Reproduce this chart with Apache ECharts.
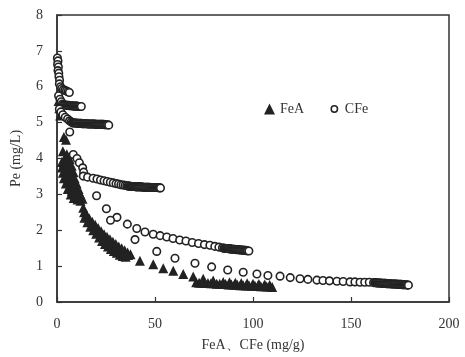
<!DOCTYPE html>
<html><head><meta charset="utf-8">
<script src="https://cdn.jsdelivr.net/npm/echarts@6/dist/echarts.min.js"></script>
<style>html,body{margin:0;padding:0;background:#fff}#c{width:465px;height:357px}</style>
</head><body><div id="c"></div>
<script>
// Axis ticks
const xTicks = [0, 50, 100, 150, 200];
const yTicks = [0, 1, 2, 3, 4, 5, 6, 7, 8];
const seriesNames = ['FeA', 'CFe'];

// CFe (open circles), [FeA/CFe mg/g, Pe mg/L]
const cfeTop = [[0.2,6.8],[0.5,6.72],[0.3,6.62],[0.7,6.55],[0.5,6.45],[0.9,6.38],[1.0,6.28],[1.3,6.18],[1.2,6.08],[1.8,6.0],[2.4,5.95],[3.2,5.92],[4.0,5.9],[4.8,5.88],[5.6,5.86],[6.3,5.84]];
const cfeBand55 = [[0.8,5.75],[1.5,5.65],[2.2,5.58],[2.8,5.52],[3.3,5.5],[3.8,5.49],[4.3,5.49],[4.8,5.48],[5.3,5.48],[5.8,5.48],[6.3,5.47],[6.8,5.47],[7.3,5.47],[7.8,5.47],[8.3,5.46],[8.8,5.46],[9.3,5.46],[9.8,5.46],[10.3,5.46],[10.8,5.45],[11.3,5.45],[11.8,5.45],[12.4,5.45]];
const cfeBand50 = [[1.2,5.38],[2.0,5.3],[3.0,5.22],[4.2,5.15],[5.4,5.1],[6.4,5.05],[7.2,5.02],[7.8,5.0],[8.3,4.99],[8.8,4.99],[9.3,4.99],[9.8,4.99],[10.3,4.98],[10.8,4.98],[11.3,4.98],[11.8,4.98],[12.3,4.98],[12.8,4.97],[13.3,4.97],[13.8,4.97],[14.3,4.97],[14.8,4.97],[15.3,4.97],[15.8,4.96],[16.3,4.96],[16.8,4.96],[17.3,4.96],[17.8,4.96],[18.3,4.96],[18.8,4.96],[19.3,4.96],[19.8,4.95],[20.3,4.95],[20.8,4.95],[21.3,4.95],[21.8,4.95],[22.3,4.95],[22.8,4.95],[23.3,4.95],[23.8,4.95],[24.3,4.94],[24.8,4.94],[25.3,4.94],[25.8,4.94],[26.4,4.93],[6.5,4.74]];
const cfe32 = [[8.3,4.11],[10.2,4.0],[11.4,3.88],[13.1,3.74],[13.6,3.62],[13.4,3.51],[15.6,3.48],[18.4,3.45],[20.4,3.43],[22.2,3.4],[24.0,3.38],[25.6,3.36],[27.2,3.34],[28.7,3.32],[30.1,3.3],[31.4,3.29],[32.6,3.27],[33.7,3.26],[34.7,3.25],[35.6,3.24],[36.2,3.23],[36.7,3.23],[37.2,3.23],[37.7,3.22],[38.2,3.22],[38.7,3.22],[39.2,3.22],[39.7,3.22],[40.2,3.21],[40.7,3.21],[41.2,3.21],[41.7,3.21],[42.2,3.21],[42.7,3.21],[43.2,3.21],[43.7,3.2],[44.2,3.2],[44.7,3.2],[45.2,3.2],[45.7,3.2],[46.2,3.2],[46.7,3.2],[47.2,3.2],[47.7,3.19],[48.2,3.19],[48.7,3.19],[49.2,3.19],[49.7,3.19],[50.2,3.19],[50.7,3.19],[51.2,3.19],[51.7,3.19],[52.2,3.18],[52.8,3.18]];
const cfe14 = [[20.2,2.96],[25.2,2.6],[30.6,2.36],[35.9,2.17],[40.7,2.05],[44.9,1.95],[49.1,1.89],[52.6,1.85],[56.0,1.81],[59.2,1.77],[62.6,1.73],[65.8,1.7],[69.0,1.66],[72.2,1.63],[75.2,1.6],[78.0,1.58],[80.5,1.55],[82.6,1.53],[84.4,1.51],[85.2,1.5],[85.7,1.5],[86.2,1.49],[86.7,1.49],[87.2,1.49],[87.7,1.48],[88.2,1.48],[88.7,1.48],[89.2,1.47],[89.7,1.47],[90.2,1.47],[90.7,1.47],[91.2,1.46],[91.7,1.46],[92.2,1.46],[92.7,1.46],[93.2,1.45],[93.7,1.45],[94.2,1.45],[94.7,1.45],[95.2,1.44],[95.7,1.44],[96.2,1.44],[96.7,1.43],[97.2,1.43],[97.9,1.42]];
const cfe05 = [[27.3,2.28],[39.8,1.74],[50.9,1.41],[60.2,1.22],[70.4,1.08],[78.9,0.98],[87.1,0.89],[95.0,0.83],[102.0,0.78],[107.6,0.74],[113.8,0.72],[119.0,0.68],[124.0,0.65],[128.0,0.63],[132.6,0.61],[135.7,0.6],[139.0,0.59],[142.8,0.58],[146.0,0.57],[149.5,0.56],[152.0,0.56],[154.6,0.55],[157.0,0.55],[159.3,0.55],[161.5,0.54],[162.2,0.54],[162.7,0.54],[163.2,0.53],[163.7,0.53],[164.2,0.53],[164.7,0.53],[165.2,0.53],[165.7,0.52],[166.2,0.52],[166.7,0.52],[167.2,0.52],[167.7,0.52],[168.2,0.51],[168.7,0.51],[169.2,0.51],[169.7,0.51],[170.2,0.51],[170.7,0.5],[171.2,0.5],[171.7,0.5],[172.2,0.5],[172.7,0.5],[173.2,0.5],[173.7,0.49],[174.2,0.49],[174.7,0.49],[175.2,0.49],[175.7,0.49],[176.2,0.48],[176.7,0.48],[177.2,0.48],[177.7,0.48],[178.2,0.48],[178.7,0.47],[179.3,0.47]];

// FeA (filled triangles)
const feaTop = [[0.8,5.6],[1.2,5.4],[1.6,5.2],[3.5,4.6],[4.6,4.52]];
const feaColumn = [[3,4.2],[5,4.12],[4,4.0],[6.5,3.98],[2.5,3.9],[3.5,3.88],[5.5,3.85],[7.5,3.8],[2.5,3.75],[4.5,3.72],[6.5,3.68],[8.5,3.62],[3,3.6],[5,3.56],[7,3.5],[9,3.45],[3.5,3.45],[5.5,3.4],[8,3.35],[10,3.3],[4.5,3.3],[6.5,3.25],[9,3.2],[11,3.15],[5.5,3.15],[7.5,3.1],[10,3.05],[12,3.0],[7,3.0],[9,2.98],[11.5,2.92],[8.5,2.9],[10.5,2.86],[13,2.88],[12,2.82]];
const feaDiagUpper = [[13.4,2.63],[15,2.45],[16.5,2.33],[18,2.24],[19.5,2.15],[21,2.06],[22.5,1.97],[24,1.89],[25.5,1.82],[27,1.75],[28.5,1.68],[30,1.62],[31.5,1.55],[33,1.5],[34.5,1.44],[36,1.38],[37.5,1.33]];
const feaDiagMid = [[13.8,2.5],[15.3,2.36],[16.8,2.25],[18.3,2.14],[19.8,2.04],[21.3,1.95],[22.8,1.86],[24.3,1.78],[25.8,1.7],[27.3,1.63],[28.8,1.56],[30.3,1.5],[31.8,1.45],[33.3,1.4],[34.8,1.35],[36.3,1.31]];
const feaDiagLower = [[14,2.35],[15.5,2.22],[17,2.1],[18.5,2.0],[20,1.9],[21.5,1.8],[23,1.7],[24.5,1.62],[26,1.55],[27.5,1.48],[29,1.42],[30.5,1.37],[32,1.32],[33.5,1.28],[35,1.26]];
const feaTailUpper = [[42.3,1.15],[49.1,1.05],[54.2,0.94],[59.3,0.87],[64.4,0.78],[69.5,0.71],[74.6,0.65],[79.7,0.6],[84.8,0.56],[88,0.55],[91,0.54],[94,0.53],[97,0.52],[100,0.51],[103,0.5],[106,0.49],[108.5,0.48]];
const feaTailLower = [[71,0.55],[72.5,0.54],[74,0.54],[75.5,0.53],[77,0.53],[78.5,0.52],[80,0.52],[81.5,0.51],[83,0.51],[84.5,0.5],[86,0.5],[87.5,0.49],[89,0.49],[90.5,0.48],[92,0.48],[93.5,0.47],[95,0.47],[96.5,0.46],[98,0.46],[99.5,0.45],[101,0.45],[102.5,0.45],[104,0.44],[105.5,0.44],[107,0.43],[108.5,0.43],[109.8,0.42]];

const feaData = [].concat(feaTop, feaColumn, feaDiagUpper, feaDiagMid, feaDiagLower, feaTailUpper, feaTailLower);
const cfeData = [].concat(cfeTop, cfeBand55, cfeBand50, cfe32, cfe14, cfe05);

const FONT = 'Liberation Serif, Times New Roman, serif';
const chart = echarts.init(document.getElementById('c'), null, {renderer: 'canvas'});
chart.setOption({
  animation: false,
  backgroundColor: '#fff',
  grid: {left: 57, right: 16, top: 15, bottom: 54, show: true, borderColor: '#333', borderWidth: 1.5, backgroundColor: 'transparent'},
  legend: {
    left: 259, top: 97, itemWidth: 11, itemHeight: 11, itemGap: 24, itemTextGap: 4,
    textStyle: {fontFamily: FONT, fontSize: 14, color: '#333'},
    data: [
      {name: seriesNames[0], icon: 'triangle', itemStyle: {color: '#222', borderWidth: 0}},
      {name: seriesNames[1], icon: 'path://M-7,-7M7,7M-4,0a4,4 0 1,0 8,0a4,4 0 1,0 -8,0z', itemStyle: {color: '#fff', borderColor: '#222', borderWidth: 1.5}}
    ]
  },
  xAxis: {
    type: 'value', min: xTicks[0], max: xTicks[xTicks.length - 1], interval: 50,
    name: 'FeA、CFe (mg/g)', nameLocation: 'middle', nameGap: 36,
    nameTextStyle: {fontFamily: FONT, fontSize: 14, color: '#333'},
    axisLine: {lineStyle: {color: '#333', width: 1.5}},
    axisTick: {inside: true, length: 5, lineStyle: {color: '#333', width: 1.2}},
    axisLabel: {margin: 15, fontFamily: FONT, fontSize: 14, color: '#333'},
    splitLine: {show: false}
  },
  yAxis: {
    type: 'value', min: yTicks[0], max: yTicks[yTicks.length - 1], interval: 1,
    name: 'Pe (mg/L)', nameLocation: 'middle', nameGap: 34,
    nameTextStyle: {fontFamily: FONT, fontSize: 14, color: '#333'},
    axisLine: {lineStyle: {color: '#333', width: 1.5}},
    axisTick: {inside: true, length: 5, lineStyle: {color: '#333', width: 1.2}},
    axisLabel: {margin: 14, fontFamily: FONT, fontSize: 14, color: '#333'},
    splitLine: {show: false}
  },
  series: [
    {name: seriesNames[0], type: 'scatter', symbol: 'triangle', symbolSize: 10, data: feaData,
     itemStyle: {color: '#222', opacity: 1}, z: 2},
    {name: seriesNames[1], type: 'scatter', symbol: 'circle', symbolSize: 7.5, data: cfeData,
     itemStyle: {color: '#fff', borderColor: '#222', borderWidth: 1.6, opacity: 1}, z: 3}
  ]
});
</script></body></html>
